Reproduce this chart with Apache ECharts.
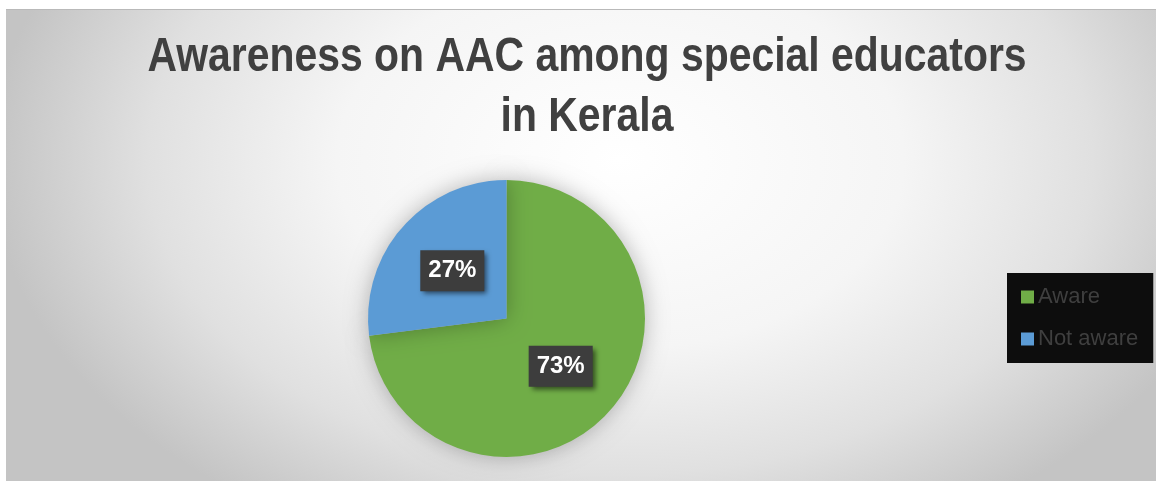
<!DOCTYPE html>
<html>
<head>
<meta charset="utf-8">
<script src="https://cdn.jsdelivr.net/npm/echarts@6/dist/echarts.min.js"></script>
<style>
  html, body { margin: 0; padding: 0; background: #ffffff; }
  #chart { width: 1156px; height: 481px; }
</style>
</head>
<body>
<div id="chart"></div>
<script>
// Survey result: awareness of AAC among special educators
const categories = ['Aware', 'Not aware'];
const shares = [73, 27];               // percent of respondents
const sliceColors = ['#70AD47', '#5B9BD5'];
const titleLines = ['Awareness on AAC among special educators', 'in Kerala'];

const chart = echarts.init(document.getElementById('chart'), null, { renderer: 'canvas' });

const SANS = '"Liberation Sans", Arial, sans-serif';
const bgScaleX = 1.5;
const titleSqueeze = 0.835;   // condensed look for the heading

chart.setOption({
  animation: false,
  color: sliceColors,
  graphic: [
    {
      // panel with soft radial shading
      type: 'rect',
      x: 6, y: 9,
      scaleX: bgScaleX,
      z: -10,
      shape: { x: 0, y: 0, width: 1150 / bgScaleX, height: 472 },
      style: {
        fill: {
          type: 'radial',
          x: 0.534, y: 0.32, r: 0.89,
          colorStops: [
            { offset: 0, color: '#ffffff' },
            { offset: 0.45, color: '#f5f5f5' },
            { offset: 0.75, color: '#e0e0e0' },
            { offset: 1, color: '#c4c4c4' }
          ]
        }
      }
    },
    {
      type: 'rect', x: 6, y: 9, z: -9,
      shape: { width: 1150, height: 1 },
      style: { fill: '#b9b9b9' }
    },
    {
      type: 'text',
      x: 587, y: 82,
      scaleX: titleSqueeze,
      z: 5,
      style: {
        text: titleLines[0],
        align: 'center',
        verticalAlign: 'bottom',
        font: 'bold 49px ' + SANS,
        fill: '#404040'
      }
    },
    {
      type: 'text',
      x: 587, y: 142,
      scaleX: titleSqueeze,
      z: 5,
      style: {
        text: titleLines[1],
        align: 'center',
        verticalAlign: 'bottom',
        font: 'bold 49px ' + SANS,
        fill: '#404040'
      }
    }
  ],
  legend: {
    orient: 'vertical',
    left: 1007,
    top: 273,
    backgroundColor: '#0d0d0d',
    padding: [13, 15, 13, 14],
    itemWidth: 13,
    itemHeight: 13,
    itemGap: 20,
    icon: 'rect',
    selectedMode: false,
    textStyle: {
      color: '#3f3f3f',
      fontFamily: SANS,
      fontSize: 22,
      padding: [0, 0, 0, -1]
    },
    data: categories
  },
  series: [
    {
      type: 'pie',
      center: [506.5, 318.5],
      radius: 138.5,
      startAngle: 90,
      clockwise: true,
      silent: true,
      itemStyle: {
        shadowBlur: 22,
        shadowColor: 'rgba(0,0,0,0.28)'
      },
      label: {
        show: true,
        position: 'inside',
        formatter: '{c}%',
        color: '#ffffff',
        fontFamily: SANS,
        fontWeight: 'bold',
        fontSize: 24,
        lineHeight: 30,
        backgroundColor: '#3d3d3d',
        padding: [6, 8, 5, 8],
        shadowColor: 'rgba(0,0,0,0.55)',
        shadowBlur: 5,
        shadowOffsetX: 3,
        shadowOffsetY: 3
      },
      labelLine: { show: false },
      data: categories.map((name, i) => ({ name, value: shares[i] }))
    }
  ]
});
</script>
</body>
</html>
